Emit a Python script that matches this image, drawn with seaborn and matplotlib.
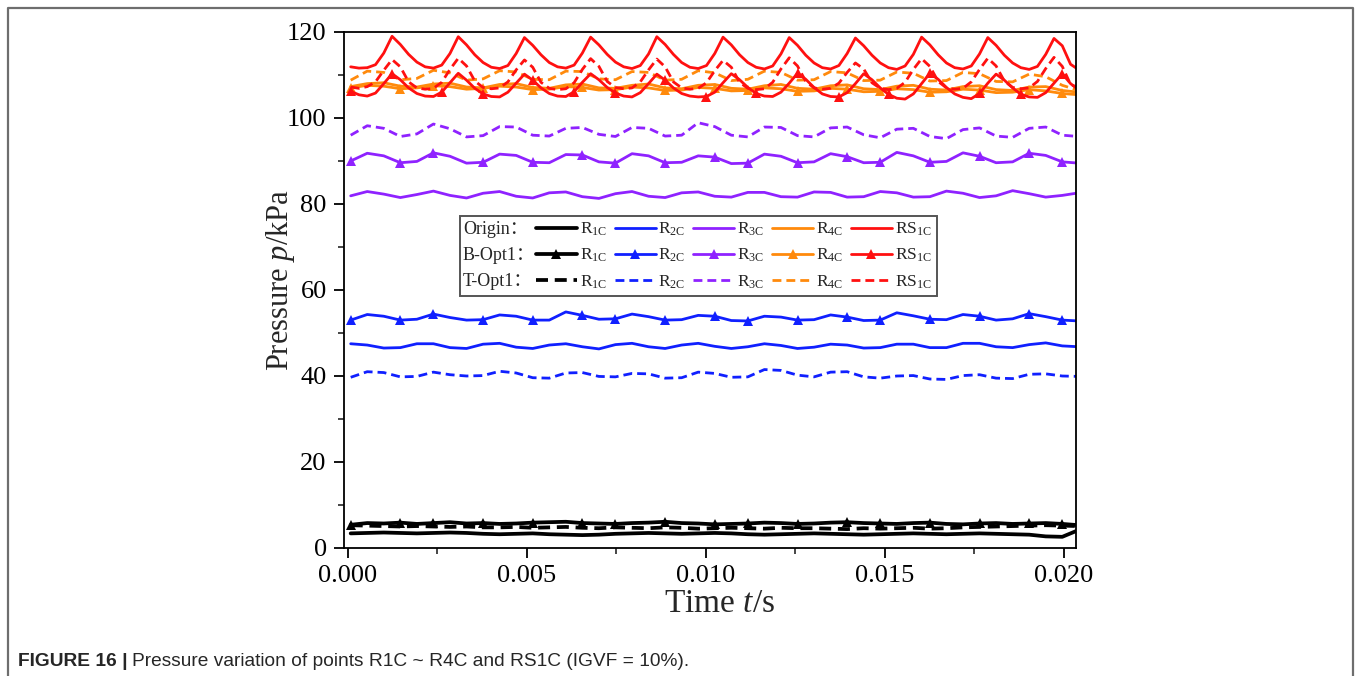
import numpy as np
import matplotlib
matplotlib.use("Agg")
import matplotlib.pyplot as plt
import seaborn as sns
from matplotlib.lines import Line2D
from matplotlib.patches import Rectangle
from matplotlib.ticker import MultipleLocator, FormatStrFormatter

# ---------------------------------------------------------------- data
# Sampling: fine series every dt, coarse series every 2*dt, from t_start (s)
t_start = 0.000075
dt = 0.00023125

# RS1C (fine sampling)
rs1c_origin = [
    111.9, 111.6, 111.7, 112.4, 115.1,
    119.0, 117.1, 114.8, 113.0, 111.9, 111.6, 112.3, 115.0,
    118.9, 117.0, 114.7, 112.9, 111.8, 111.5, 112.2, 115.0,
    118.7, 116.9, 114.7, 112.9, 111.9, 111.6, 112.3, 115.1,
    118.8, 117.0, 114.8, 113.0, 111.9, 111.5, 112.2, 114.9,
    118.9, 117.1, 114.8, 112.9, 111.8, 111.5, 112.2, 115.0,
    118.8, 117.0, 114.7, 112.9, 111.8, 111.4, 112.1, 114.9,
    118.7, 116.9, 114.6, 112.8, 111.7, 111.4, 112.2, 115.0,
    118.6, 116.8, 114.6, 112.8, 111.7, 111.3, 112.1, 114.8,
    118.8, 117.0, 114.7, 112.8, 111.7, 111.4, 112.1, 114.9,
    118.7, 116.9, 114.6, 112.8, 111.7, 111.3, 112.0, 114.8,
    118.5, 116.8, 112.5, 111.2]
rs1c_bopt = [
    106.2, 105.4, 105.1, 105.8, 108.0,
    110.3, 108.9, 107.0, 105.7, 105.1, 105.0, 106.0, 108.2,
    110.4, 108.8, 106.9, 105.6, 105.0, 104.9, 106.0, 108.1,
    110.2, 108.8, 107.0, 105.7, 105.1, 105.0, 106.1, 108.3,
    110.3, 108.9, 107.1, 105.8, 105.1, 104.9, 105.9, 108.0,
    110.2, 108.8, 107.0, 105.7, 105.1, 104.9, 105.0, 106.0, 108.2,
    110.3, 108.9, 107.1, 105.7, 105.1, 105.0, 106.0, 108.1,
    110.4, 109.0, 107.1, 105.6, 105.0, 104.9, 105.9, 108.0,
    110.3, 108.9, 107.0, 105.5, 104.6, 104.4, 105.6, 108.0,
    110.4, 109.0, 107.1, 105.6, 104.8, 104.5, 105.7, 108.1,
    110.2, 108.8, 107.0, 105.5, 104.9, 104.8, 105.9, 108.1,
    110.3, 108.0, 106.5]
rs1c_topt = [
    107.2, 106.9, 107.3, 108.4, 111.1,
    113.6, 111.9, 108.4, 107.0, 106.7, 106.9, 108.3, 111.3,
    113.9, 112.1, 108.6, 107.1, 106.8, 107.0, 108.4, 111.2,
    113.5, 111.8, 108.3, 106.9, 106.6, 106.8, 108.2, 111.3,
    113.8, 112.0, 108.5, 107.1, 106.8, 107.0, 108.4, 111.2,
    113.7, 111.9, 108.4, 107.0, 106.7, 106.9, 108.2, 111.0,
    113.4, 111.8, 108.3, 106.9, 106.6, 106.8, 108.3, 111.4,
    114.0, 112.1, 108.5, 107.0, 106.7, 106.9, 108.1, 110.6,
    112.8, 111.4, 108.2, 106.9, 106.6, 106.9, 108.3, 111.3,
    113.8, 112.0, 108.5, 107.0, 106.7, 106.9, 108.4, 111.3,
    113.9, 112.1, 108.6, 107.1, 106.8, 107.0, 108.5, 111.5,
    114.1, 112.0, 107.8, 107.0]

# R4C (coarse sampling)
r4c_origin = [
    107.3, 108.0, 108.2, 107.4, 107.2, 107.9, 108.1, 107.2, 107.0, 107.8,
    108.0, 107.1, 106.9, 107.7, 107.9, 107.0, 106.9, 107.6, 107.9, 107.0,
    106.8, 107.6, 107.8, 106.9, 106.7, 107.5, 107.8, 106.9, 106.7, 107.5,
    107.7, 106.8, 106.6, 107.4, 107.6, 106.7, 106.5, 107.3, 107.5, 106.6,
    106.4, 107.2, 107.3, 106.4, 106.0]
r4c_bopt = [
    107.0, 107.6, 107.4, 106.8, 107.0, 107.5, 107.3, 106.7, 106.9, 107.4,
    107.2, 106.6, 106.7, 107.3, 107.1, 106.5, 106.6, 107.2, 107.0, 106.4,
    106.5, 107.1, 106.9, 106.3, 106.4, 107.0, 106.8, 106.2, 106.3, 106.9,
    106.7, 106.1, 106.2, 106.8, 106.6, 106.0, 106.1, 106.7, 106.5, 105.9,
    106.0, 106.6, 106.3, 105.7, 105.4]
r4c_topt = [
    108.8, 110.9, 110.6, 108.9, 109.2, 111.1, 110.5, 108.8, 109.1, 111.0,
    110.7, 109.0, 108.9, 110.9, 110.8, 109.1, 108.9, 110.8, 110.6, 108.8,
    109.0, 111.0, 110.5, 108.7, 109.0, 110.9, 110.6, 108.8, 108.9, 110.8,
    110.5, 108.7, 108.8, 110.7, 110.4, 108.6, 108.7, 110.6, 110.3, 108.5,
    108.4, 110.2, 109.6, 107.6, 106.4]

# R3C
r3c_origin = [
    81.9, 82.9, 82.3, 81.5, 82.2, 83.0, 82.0, 81.4, 82.5, 82.9,
    81.8, 81.4, 82.6, 82.8, 81.7, 81.3, 82.4, 82.9, 81.8, 81.5,
    82.6, 82.8, 81.8, 81.6, 82.7, 82.7, 81.7, 81.6, 82.8, 82.7,
    81.6, 81.7, 82.9, 82.6, 81.6, 81.7, 83.0, 82.5, 81.5, 81.9,
    83.1, 82.4, 81.6, 82.0, 82.6]
r3c_bopt = [
    90.0, 91.8, 91.2, 89.6, 89.9, 91.9, 91.1, 89.5, 89.7, 91.6,
    91.3, 89.7, 89.6, 91.5, 91.4, 89.8, 89.5, 91.7, 91.2, 89.6,
    89.7, 91.2, 90.9, 89.4, 89.5, 91.6, 91.1, 89.6, 89.8, 91.7,
    91.0, 89.6, 89.7, 92.0, 91.2, 89.7, 89.9, 91.9, 91.1, 89.6,
    89.8, 91.8, 91.3, 89.8, 89.5]
r3c_topt = [
    96.0, 98.2, 97.6, 95.7, 96.3, 98.6, 97.5, 95.6, 95.9, 98.0,
    97.9, 96.0, 95.8, 97.6, 97.8, 96.2, 95.7, 97.8, 97.6, 95.8,
    96.0, 98.9, 98.0, 96.0, 95.6, 97.9, 97.8, 95.9, 95.6, 97.7,
    97.9, 96.1, 95.4, 97.4, 97.6, 95.7, 95.2, 97.3, 97.7, 95.8,
    95.5, 97.6, 97.9, 96.0, 95.7]

# R2C
r2c_origin = [
    47.5, 47.2, 46.5, 46.6, 47.5, 47.5, 46.6, 46.4, 47.4, 47.6,
    46.7, 46.4, 47.2, 47.5, 46.8, 46.3, 47.3, 47.6, 46.8, 46.4,
    47.2, 47.6, 46.9, 46.4, 46.8, 47.5, 47.1, 46.4, 46.7, 47.4,
    47.2, 46.5, 46.6, 47.4, 47.4, 46.6, 46.6, 47.6, 47.6, 46.8,
    46.6, 47.3, 47.7, 47.0, 46.8]
r2c_bopt = [
    53.0, 54.3, 53.9, 53.0, 53.2, 54.4, 53.6, 53.0, 53.1, 54.2,
    53.9, 53.0, 53.0, 54.9, 54.1, 53.2, 53.3, 54.4, 53.8, 53.0,
    53.1, 54.1, 53.9, 52.9, 52.8, 53.9, 53.7, 53.0, 53.1, 54.2,
    53.7, 52.9, 53.0, 54.7, 54.0, 53.2, 53.1, 54.3, 53.9, 53.0,
    53.3, 54.5, 53.8, 53.0, 52.8]
r2c_topt = [
    39.7, 41.0, 40.8, 39.8, 39.9, 40.9, 40.3, 40.0, 40.1, 41.1,
    40.7, 39.6, 39.5, 40.7, 40.8, 39.9, 39.8, 40.6, 40.5, 39.5,
    39.6, 40.9, 40.6, 39.7, 39.8, 41.5, 41.3, 40.2, 39.8, 40.9,
    41.0, 39.8, 39.5, 40.0, 40.1, 39.3, 39.2, 40.1, 40.3, 39.5,
    39.4, 40.4, 40.5, 40.0, 39.9]

# R1C
r1c_origin = [
    3.4, 3.5, 3.6, 3.5, 3.4, 3.5, 3.6, 3.5, 3.3, 3.2,
    3.3, 3.4, 3.2, 3.1, 3.0, 3.1, 3.3, 3.4, 3.5, 3.4,
    3.3, 3.4, 3.5, 3.4, 3.2, 3.1, 3.2, 3.3, 3.4, 3.3,
    3.2, 3.1, 3.2, 3.3, 3.4, 3.3, 3.2, 3.3, 3.4, 3.3,
    3.2, 3.1, 2.7, 2.6, 4.2]
r1c_bopt = [
    5.4, 5.8, 5.7, 5.9, 5.6, 5.8, 6.0, 5.7, 5.8, 5.6,
    5.7, 5.9, 6.0, 6.1, 5.8, 5.7, 5.6, 5.8, 5.9, 6.1,
    5.8, 5.7, 5.5, 5.6, 5.7, 5.9, 5.8, 5.6, 5.7, 5.9,
    6.0, 5.8, 5.7, 5.6, 5.8, 5.9, 5.6, 5.5, 5.7, 5.8,
    5.6, 5.7, 5.8, 5.6, 5.3]
r1c_topt = [
    5.3, 5.2, 5.1, 5.0, 5.1, 5.0, 4.9, 5.0, 4.8, 4.8,
    4.9, 4.7, 4.8, 4.9, 4.7, 4.6, 4.8, 4.7, 4.6, 4.8,
    4.7, 4.5, 4.6, 4.7, 4.6, 4.5, 4.7, 4.6, 4.6, 4.5,
    4.4, 4.6, 4.5, 4.6, 4.7, 4.5, 4.6, 4.8, 4.9, 5.0,
    5.1, 5.2, 5.3, 5.2, 5.1]

locations = ["R1C", "R2C", "R3C", "R4C", "RS1C"]
location_labels = [r"R$_{\mathrm{1C}}$", r"R$_{\mathrm{2C}}$", r"R$_{\mathrm{3C}}$",
                   r"R$_{\mathrm{4C}}$", r"RS$_{\mathrm{1C}}$"]
schemes = ["Origin", "B-Opt1", "T-Opt1"]
scheme_headers = ["Origin\uff1a", "B-Opt1\uff1a", "T-Opt1\uff1a"]

series = {
    ("R1C", "Origin"): (r1c_origin, 2), ("R1C", "B-Opt1"): (r1c_bopt, 2), ("R1C", "T-Opt1"): (r1c_topt, 2),
    ("R2C", "Origin"): (r2c_origin, 2), ("R2C", "B-Opt1"): (r2c_bopt, 2), ("R2C", "T-Opt1"): (r2c_topt, 2),
    ("R3C", "Origin"): (r3c_origin, 2), ("R3C", "B-Opt1"): (r3c_bopt, 2), ("R3C", "T-Opt1"): (r3c_topt, 2),
    ("R4C", "Origin"): (r4c_origin, 2), ("R4C", "B-Opt1"): (r4c_bopt, 2), ("R4C", "T-Opt1"): (r4c_topt, 2),
    ("RS1C", "Origin"): (rs1c_origin, 1), ("RS1C", "B-Opt1"): (rs1c_bopt, 1), ("RS1C", "T-Opt1"): (rs1c_topt, 1),
}

# ---------------------------------------------------------------- style
colors = {"R1C": "#000000", "R2C": "#1020ff", "R3C": "#8f22ff",
          "R4C": "#ff8a0c", "RS1C": "#ff1010"}
widths = {"R1C": 2.7, "R2C": 2.0, "R3C": 2.0, "R4C": 2.0, "RS1C": 2.0}
dash = (0, (3.2, 1.8))
marker_gap = 0.00125  # s between triangle markers

sns.set_style("ticks")
plt.rcParams["font.family"] = ["Liberation Serif", "Noto Sans CJK SC"]
plt.rcParams["mathtext.fontset"] = "custom"
plt.rcParams["mathtext.rm"] = "Liberation Serif"
plt.rcParams["mathtext.it"] = "Liberation Serif:italic"
plt.rcParams["mathtext.bf"] = "Liberation Serif:bold"

W, H = 1356, 676
fig = plt.figure(figsize=(W / 100, H / 100), dpi=100)
fig.patch.set_facecolor("white")
ax = fig.add_axes([344 / W, 1 - 548 / H, 732 / W, 516 / H])


def style_for(loc, scheme):
    kw = dict(color=colors[loc], linewidth=widths[loc], linestyle="-")
    if scheme == "T-Opt1":
        kw["linestyle"] = dash
    if scheme == "B-Opt1":
        kw.update(marker="^", markersize=6.5, markeredgewidth=0)
    return kw


for loc in locations:
    for scheme in ["T-Opt1", "Origin", "B-Opt1"]:
        vals, step = series[(loc, scheme)]
        vals = np.asarray(vals)
        t = t_start + step * dt * np.arange(len(vals))
        kw = style_for(loc, scheme)
        if scheme == "B-Opt1":
            gap = marker_gap / (step * dt)
            kw["markevery"] = list(np.unique(np.round(np.arange(0, len(vals), gap)).astype(int)))
        sns.lineplot(x=t, y=vals, ax=ax, sort=False, estimator=None, **kw)

ax.set_xlim(-0.000112, 0.020346)
ax.set_ylim(0, 120)
ax.xaxis.set_major_locator(MultipleLocator(0.005))
ax.xaxis.set_minor_locator(MultipleLocator(0.0025))
ax.xaxis.set_major_formatter(FormatStrFormatter("%.3f"))
ax.yaxis.set_major_locator(MultipleLocator(20))
ax.yaxis.set_minor_locator(MultipleLocator(10))
ax.tick_params(which="major", direction="out", length=7.5, width=1.3,
               labelsize=19, pad=5, colors="black")
ax.tick_params(which="minor", direction="out", length=4, width=1.2)
ax.tick_params(top=False, right=False, which="both")
for s in ax.spines.values():
    s.set_linewidth(1.3)
    s.set_color("black")
    s.set_visible(True)

ax.set_xlabel(r"Time $t$/s", fontsize=24)
ax.set_ylabel(r"Pressure $p$/kPa", fontsize=22)
ax.xaxis.set_label_coords((720 - 344) / 732, (548 - 588) / 516)
ax.yaxis.set_label_coords((297 - 344) / 732, (548 - 280) / 516)

# ---------------------------------------------------------------- legend
handles, labels = [], []
for loc, lab in zip(locations, location_labels):
    for scheme in schemes:
        kw = style_for(loc, scheme)
        handles.append(Line2D([], [], **kw))
        labels.append(lab)

leg_font = 12.5
leg = ax.legend(handles, labels, ncol=5, loc="upper left",
                bbox_to_anchor=(536 / W, 1 - 221 / H), bbox_transform=fig.transFigure,
                frameon=False, fontsize=leg_font, handlelength=2.35, handletextpad=0.17,
                columnspacing=0.45, labelspacing=0.5, borderpad=0, borderaxespad=0,
                numpoints=1)

fig.canvas.draw()
renderer = fig.canvas.get_renderer()
leg_bb = leg.get_window_extent(renderer)
font_px = leg_font * 100 / 72
for i, head in enumerate(scheme_headers):
    hb = leg.legend_handles[i].get_window_extent(renderer)
    y_line = (hb.y0 + hb.y1) / 2
    fig.text(463 / W, (y_line - 0.33 * font_px) / H, head, fontsize=leg_font + 0.5,
             va="baseline", ha="left", zorder=7,
             family=["Liberation Serif", "Noto Sans CJK SC"])

frame = Rectangle((460 / W, (leg_bb.y0 - 5) / H), (leg_bb.x1 + 5 - 460) / W,
                  (leg_bb.y1 - leg_bb.y0 + 10) / H, transform=fig.transFigure,
                  fill=True, facecolor="white", edgecolor="#555555", linewidth=1.4,
                  zorder=4)
fig.add_artist(frame)
leg.set_zorder(6)
fig.add_artist(leg)

# ---------------------------------------------------------------- page frame and caption
fig.add_artist(Line2D([8 / W, 8 / W, 1353 / W, 1353 / W], [-0.02, 1 - 8 / H, 1 - 8 / H, -0.02],
                      transform=fig.transFigure, color="#6e6e6e", linewidth=1.6))

cap_y = 1 - 662 / H
cap_size = 13.8
t1 = fig.text(18 / W, cap_y, "FIGURE 16 |", fontsize=cap_size, fontweight="bold",
              family="Liberation Sans", va="center", ha="left")
fig.canvas.draw()
b1 = t1.get_window_extent(renderer)
fig.text((b1.x1 + 4) / W, cap_y,
         "Pressure variation of points R1C ~ R4C and RS1C (IGVF = 10%).",
         fontsize=cap_size, family="Liberation Sans", va="center", ha="left")

fig.savefig("out.png", dpi=100)
